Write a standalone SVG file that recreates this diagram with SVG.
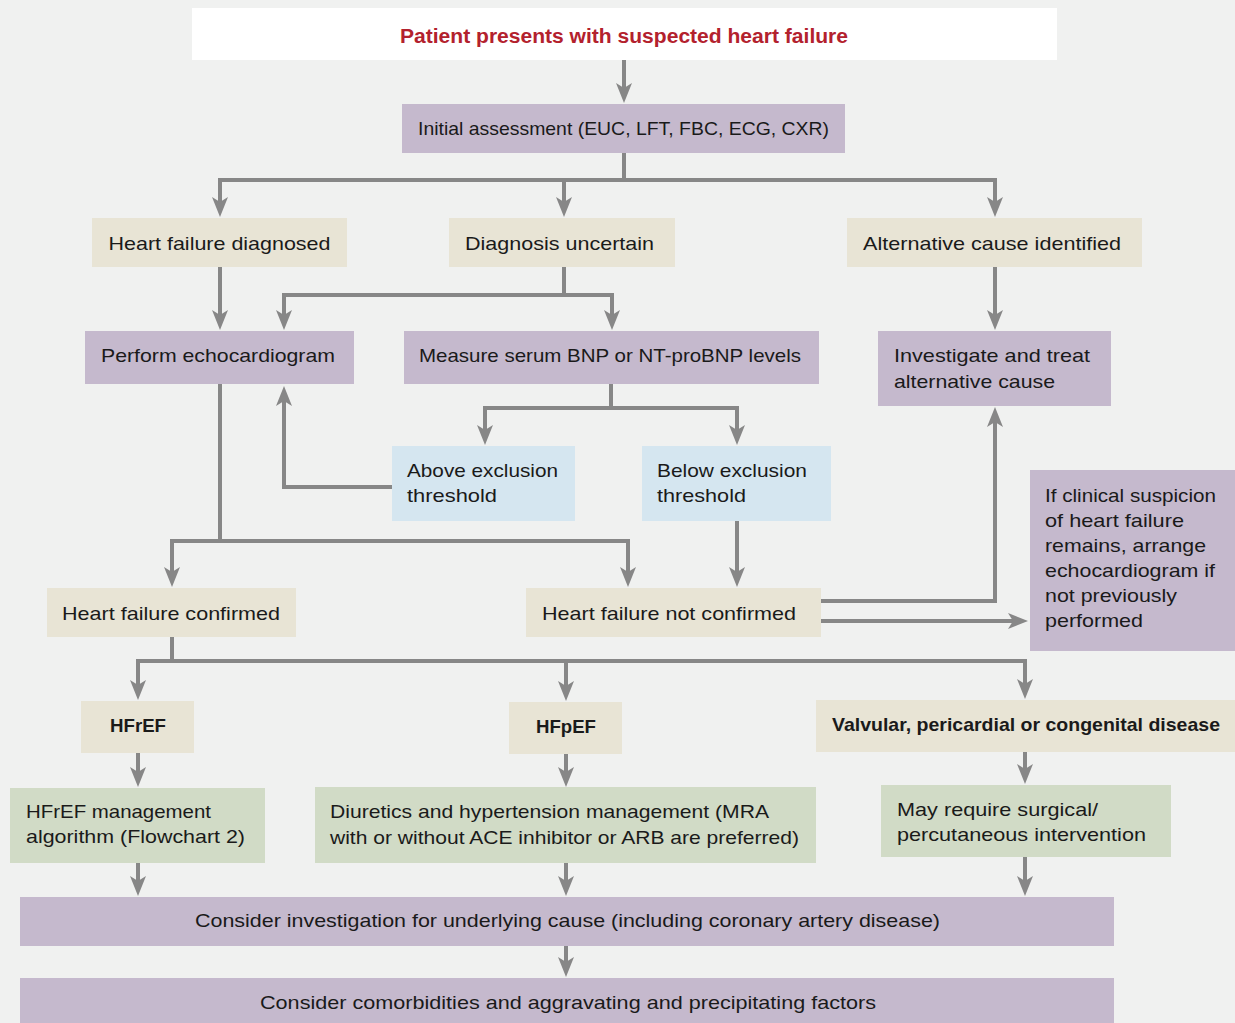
<svg xmlns="http://www.w3.org/2000/svg" width="1235" height="1023" viewBox="0 0 1235 1023">
<style>
text{font-family:"Liberation Sans",Arial,sans-serif;font-size:19px;fill:#1a1a1a}
.b{font-weight:bold}
.t{fill:#b3212d;font-weight:bold;font-size:20px}
.c{text-anchor:middle}
.w{fill:#ffffff}
.p{fill:#c5b9cd}
.y{fill:#e8e4d5}
.l{fill:#d5e6f0}
.g{fill:#d1dbc6}
.cn path{fill:none;stroke:#878787;stroke-width:4;marker-end:url(#ah)}
</style>
<defs>
<marker id="ah" viewBox="0 0 20 16" refX="15" refY="8" markerWidth="20" markerHeight="16" markerUnits="userSpaceOnUse" orient="auto">
<path d="M0,0 L20,8 L0,16 L5,8 z" fill="#878787"/>
</marker>
</defs>
<rect width="1235" height="1023" fill="#f0f1f0"/>
<g class="cn" id="connectors">
<path d="M624,60 V98"/>
<path d="M624,153 V180 H220 V212"/>
<path d="M624,180 H995 V212"/>
<path d="M564,180 V212"/>
<path d="M220,267 V325"/>
<path d="M564,267 V295 H284 V325"/>
<path d="M564,295 H612 V325"/>
<path d="M995,267 V325"/>
<path d="M611,384 V408 H485 V440"/>
<path d="M611,408 H737 V440"/>
<path d="M392,487 H284 V391"/>
<path d="M220,384 V541 H172 V582"/>
<path d="M220,541 H628 V582"/>
<path d="M737,521 V582"/>
<path d="M821,601 H995 V412"/>
<path d="M821,621 H1023"/>
<path d="M172,637 V661 H138 V695"/>
<path d="M172,661 H1025 V694"/>
<path d="M566,661 V696"/>
<path d="M138,753 V782"/>
<path d="M566,754 V782"/>
<path d="M1025,752 V779"/>
<path d="M138,863 V891"/>
<path d="M566,863 V891"/>
<path d="M1025,857 V891"/>
<path d="M566,946 V972"/>
</g>
<g id="start"><rect class="w" x="192" y="8" width="865" height="52"/><text class="t c" x="624" y="43" textLength="448" lengthAdjust="spacingAndGlyphs">Patient presents with suspected heart failure</text></g>
<g id="initial"><rect class="p" x="402" y="104" width="443" height="49"/><text class="c" x="623.5" y="135" textLength="411" lengthAdjust="spacingAndGlyphs">Initial assessment (EUC, LFT, FBC, ECG, CXR)</text></g>
<g id="hf-diagnosed"><rect class="y" x="92" y="218" width="255" height="49"/><text class="c" x="219.5" y="250" textLength="222" lengthAdjust="spacingAndGlyphs">Heart failure diagnosed</text></g>
<g id="uncertain"><rect class="y" x="449" y="218" width="226" height="49"/><text class="c" x="559.5" y="250" textLength="189" lengthAdjust="spacingAndGlyphs">Diagnosis uncertain</text></g>
<g id="alternative"><rect class="y" x="847" y="218" width="295" height="49"/><text class="c" x="992" y="250" textLength="258" lengthAdjust="spacingAndGlyphs">Alternative cause identified</text></g>
<g id="echo"><rect class="p" x="85" y="331" width="269" height="53"/><text class="c" x="218" y="362" textLength="234" lengthAdjust="spacingAndGlyphs">Perform echocardiogram</text></g>
<g id="bnp"><rect class="p" x="404" y="331" width="415" height="53"/><text class="c" x="610" y="362" textLength="382" lengthAdjust="spacingAndGlyphs">Measure serum BNP or NT-proBNP levels</text></g>
<g id="investigate"><rect class="p" x="878" y="331" width="233" height="75"/><text x="894" y="362" textLength="196" lengthAdjust="spacingAndGlyphs">Investigate and treat</text><text x="894" y="388" textLength="161" lengthAdjust="spacingAndGlyphs">alternative cause</text></g>
<g id="above"><rect class="l" x="392" y="446" width="183" height="75"/><text x="407" y="477" textLength="151" lengthAdjust="spacingAndGlyphs">Above exclusion</text><text x="407" y="502" textLength="90" lengthAdjust="spacingAndGlyphs">threshold</text></g>
<g id="below"><rect class="l" x="642" y="446" width="189" height="75"/><text x="657" y="477" textLength="150" lengthAdjust="spacingAndGlyphs">Below exclusion</text><text x="657" y="502" textLength="89" lengthAdjust="spacingAndGlyphs">threshold</text></g>
<g id="suspicion"><rect class="p" x="1030" y="470" width="205" height="181"/><text x="1045" y="502" textLength="171" lengthAdjust="spacingAndGlyphs">If clinical suspicion</text><text x="1045" y="527" textLength="139" lengthAdjust="spacingAndGlyphs">of heart failure</text><text x="1045" y="552" textLength="161" lengthAdjust="spacingAndGlyphs">remains, arrange</text><text x="1045" y="577" textLength="170" lengthAdjust="spacingAndGlyphs">echocardiogram if</text><text x="1045" y="602" textLength="132" lengthAdjust="spacingAndGlyphs">not previously</text><text x="1045" y="627" textLength="98" lengthAdjust="spacingAndGlyphs">performed</text></g>
<g id="confirmed"><rect class="y" x="47" y="588" width="249" height="49"/><text class="c" x="171" y="620" textLength="218" lengthAdjust="spacingAndGlyphs">Heart failure confirmed</text></g>
<g id="not-confirmed"><rect class="y" x="526" y="588" width="295" height="49"/><text class="c" x="669" y="620" textLength="254" lengthAdjust="spacingAndGlyphs">Heart failure not confirmed</text></g>
<g id="hfref"><rect class="y" x="81" y="701" width="113" height="52"/><text class="b c" x="138" y="732" textLength="56" lengthAdjust="spacingAndGlyphs">HFrEF</text></g>
<g id="hfpef"><rect class="y" x="509" y="702" width="113" height="52"/><text class="b c" x="566" y="733" textLength="60" lengthAdjust="spacingAndGlyphs">HFpEF</text></g>
<g id="valvular"><rect class="y" x="816" y="700" width="419" height="52"/><text class="b c" x="1026" y="731" textLength="388" lengthAdjust="spacingAndGlyphs">Valvular, pericardial or congenital disease</text></g>
<g id="hfref-mgmt"><rect class="g" x="10" y="788" width="255" height="75"/><text x="26" y="818" textLength="185" lengthAdjust="spacingAndGlyphs">HFrEF management</text><text x="26" y="843" textLength="219" lengthAdjust="spacingAndGlyphs">algorithm (Flowchart 2)</text></g>
<g id="diuretics"><rect class="g" x="315" y="787" width="501" height="76"/><text x="330" y="818" textLength="439" lengthAdjust="spacingAndGlyphs">Diuretics and hypertension management (MRA</text><text x="330" y="844" textLength="469" lengthAdjust="spacingAndGlyphs">with or without ACE inhibitor or ARB are preferred)</text></g>
<g id="surgical"><rect class="g" x="881" y="785" width="290" height="72"/><text x="897" y="816" textLength="201" lengthAdjust="spacingAndGlyphs">May require surgical/</text><text x="897" y="841" textLength="249" lengthAdjust="spacingAndGlyphs">percutaneous intervention</text></g>
<g id="underlying"><rect class="p" x="20" y="897" width="1094" height="49"/><text class="c" x="567.5" y="927" textLength="745" lengthAdjust="spacingAndGlyphs">Consider investigation for underlying cause (including coronary artery disease)</text></g>
<g id="comorbidities"><rect class="p" x="20" y="978" width="1094" height="45"/><text class="c" x="568" y="1009" textLength="616" lengthAdjust="spacingAndGlyphs">Consider comorbidities and aggravating and precipitating factors</text></g>
</svg>
